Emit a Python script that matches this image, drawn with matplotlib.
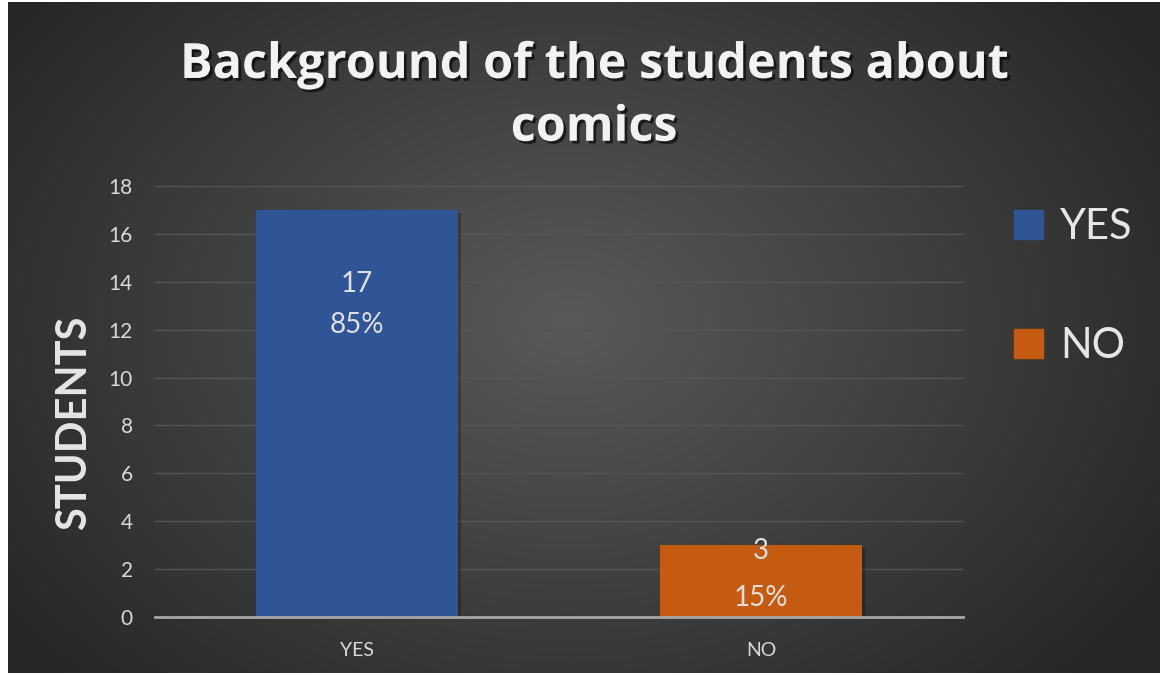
import matplotlib
matplotlib.use('Agg')
import matplotlib.pyplot as plt
import matplotlib.patheffects as pe
from matplotlib.patches import Patch
import numpy as np

categories=['YES','NO']
students=[17,3]
percent=['85%','15%']
label_top=[13.9,2.75]
label_bottom=[12.2,0.8]
yticks=[0,2,4,6,8,10,12,14,16,18]
colors=['#2f5597','#c55a11']

plt.rcParams['font.family']=['Lato','DejaVu Sans']

fig=plt.figure(figsize=(11.6,6.75),dpi=100,facecolor='white')

# dark radial backdrop
bg=fig.add_axes([8/1160,2/675,1152/1160,671/675])
bg.set_axis_off()
yy,xx=np.mgrid[0:671,0:1152]
r=np.sqrt(((xx-560)/700.0)**2+((yy-320)/520.0)**2)
shade=np.clip(0.35-0.2*r,0.15,0.35)
bg.imshow(np.dstack([shade,shade,shade]),aspect='auto',extent=[0,1,0,1])
bg.set_xlim(0,1)
bg.set_ylim(0,1)

ax=fig.add_axes([155/1160,1-617/675,808/1160,431/675])
ax.patch.set_alpha(0)
x=np.arange(len(categories))
bars=ax.bar(x,students,width=0.5,color=colors,zorder=3)
for b in bars:
    b.set_path_effects([pe.SimplePatchShadow(offset=(2,-2),shadow_rgbFace='black',alpha=0.25),pe.Normal()])
ax.set_xlim(-0.5,1.5)
ax.set_ylim(0,18)
ax.set_yticks(yticks)
ax.set_xticks(x)
ax.set_xticklabels(categories)
ax.tick_params(axis='y',length=0,colors='#d9d9d9',labelsize=15,pad=16)
ax.tick_params(axis='x',length=0,colors='#d9d9d9',labelsize=14,pad=18)
ax.grid(axis='y',color='#555555',lw=1,zorder=0)
for s in ['top','right','left']:
    ax.spines[s].set_visible(False)
ax.spines['bottom'].set_color('#a6a6a6')
ax.spines['bottom'].set_linewidth(2)
ax.spines['bottom'].set_zorder(4)

for i in range(len(categories)):
    ax.text(x[i],label_top[i],str(students[i]),ha='center',va='center',color='#e0e0e0',fontsize=20,zorder=5)
    ax.text(x[i],label_bottom[i],percent[i],ha='center',va='center',color='#e0e0e0',fontsize=20,zorder=5)

ax.set_ylabel('STUDENTS',fontsize=30,fontweight='bold',color='#e6e6e6')
ax.yaxis.set_label_coords(-0.077,0.45)

shadow=[pe.SimplePatchShadow(offset=(2,-2),shadow_rgbFace='black',alpha=0.6),pe.Normal()]
fig.text(0.512,0.903,'Background of the students about',ha='center',va='center',fontsize=35,fontweight='bold',
         family=['Open Sans','DejaVu Sans'],color='#f2f2f2',path_effects=shadow)
fig.text(0.512,0.81,'comics',ha='center',va='center',fontsize=35,fontweight='bold',
         family=['Open Sans','DejaVu Sans'],color='#f2f2f2',path_effects=shadow)

handles=[Patch(color=c) for c in colors]
leg=fig.legend(handles,categories,loc='upper left',bbox_to_anchor=(1014/1160,1-208/675),frameon=False,
               borderpad=0,borderaxespad=0,fontsize=30,handlelength=0.7,handleheight=0.7,handletextpad=0.4,
               labelspacing=1.95,labelcolor='#e6e6e6')

fig.savefig('out.png',dpi=100,facecolor='white')
